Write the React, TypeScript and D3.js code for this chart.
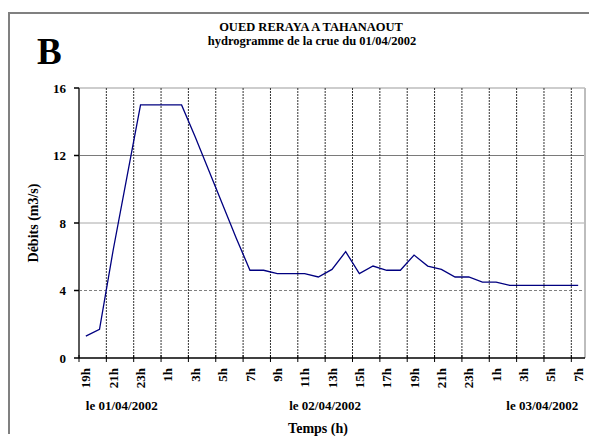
import React from 'react';
import * as d3 from 'd3';

const hourLabels = [
  '19h','20h','21h','22h','23h','0h','1h','2h','3h','4h','5h','6h','7h','8h','9h','10h','11h','12h',
  '13h','14h','15h','16h','17h','18h','19h','20h','21h','22h','23h','0h','1h','2h','3h','4h','5h','6h','7h'
];
const discharge = [
  1.3, 1.7, 6.4, 10.7, 15, 15, 15, 15, 13.1, 11.1, 9.1, 7.1, 5.2, 5.2, 5.0, 5.0, 5.0, 4.8,
  5.25, 6.3, 5.0, 5.45, 5.2, 5.2, 6.1, 5.45, 5.25, 4.8, 4.8, 4.5, 4.5, 4.3, 4.3, 4.3, 4.3, 4.3, 4.3
];
const yTicks = [0, 4, 8, 12, 16];
const dateTexts = ['le 01/04/2002', 'le 02/04/2002', 'le 03/04/2002'];
const dateIndex = [0, 18, 36];
const titleLines = ['OUED RERAYA A TAHANAOUT', 'hydrogramme de la crue du 01/04/2002'];
const yTitle = 'Débits (m3/s)';
const xTitle = 'Temps (h)';
const panelLetter = 'B';

const W = 589, H = 442;
const left = 79, right = 585, top = 88, bottom = 358;
const FONT = '"Liberation Serif", "Times New Roman", serif';

export default function App() {
  const idx = discharge.map((_, i) => i);
  const x = d3.scaleBand<number>().domain(idx).range([left, right]).padding(0);
  const bw = x.bandwidth();
  const cx = (i: number) => (x(i) as number) + bw / 2;
  const y = d3.scaleLinear().domain([0, 16]).range([bottom, top]);
  const line = d3.line<number>().x((_, i) => cx(i)).y(d => y(d));
  const even = idx.filter(i => i % 2 === 0);
  const gridX = even.filter(i => i > 0);

  const dateX = (k: number) => {
    const i = dateIndex[k];
    if (k === 0) return cx(i);
    if (k === dateTexts.length - 1) return cx(i);
    return x(i) as number;
  };
  const dateAnchor = (k: number) => (k === 0 ? 'start' : k === dateTexts.length - 1 ? 'end' : 'middle');

  return (
    <svg width={W} height={H} style={{ position: 'absolute', left: 0, top: 0, background: '#fff' }}
      fontFamily={FONT} fontWeight="bold">
      <rect x={0} y={0} width={W} height={H} fill="#fff" />
      <path d={`M9,434 V13 H${W}`} fill="none" stroke="#808080" strokeWidth={2} />

      <text x={37} y={64} fontSize={37}>{panelLetter}</text>
      <text x={311} y={31} fontSize={12.5} textAnchor="middle">{titleLines[0]}</text>
      <text x={312} y={45} fontSize={12.5} textAnchor="middle">{titleLines[1]}</text>

      {/* horizontal gridlines */}
      <line x1={left} x2={right} y1={y(12)} y2={y(12)} stroke="#7a7a7a" strokeWidth={1} />
      <line x1={left} x2={right} y1={y(8)} y2={y(8)} stroke="#a8a8a8" strokeWidth={1} />
      <line x1={left} x2={right} y1={y(4)} y2={y(4)} stroke="#808080" strokeWidth={1} strokeDasharray="3,2" />
      <line x1={left} x2={right} y1={y(16)} y2={y(16)} stroke="#bdbdbd" strokeWidth={1.5} />

      {/* vertical gridlines */}
      {gridX.map(i => (
        <line key={i} x1={x(i)} x2={x(i)} y1={top} y2={bottom} stroke="#333" strokeWidth={1} strokeDasharray="2,1" />
      ))}
      <line x1={right} x2={right} y1={top} y2={bottom} stroke="#bdbdbd" strokeWidth={2} />

      {/* axes */}
      <line x1={left} x2={left} y1={top} y2={bottom} stroke="#5a5a5a" strokeWidth={2} />
      <line x1={left} x2={right} y1={bottom} y2={bottom} stroke="#000" strokeWidth={1.5} />
      {yTicks.map(t => (
        <g key={t}>
          <line x1={left - 5} x2={left} y1={y(t)} y2={y(t)} stroke="#000" strokeWidth={1.5} />
          <text x={66} y={y(t)} dy="0.35em" fontSize={13} textAnchor="end">{t}</text>
        </g>
      ))}
      {even.map(i => (
        <line key={i} x1={x(i)} x2={x(i)} y1={bottom - 3} y2={bottom + 4} stroke="#000" strokeWidth={1} />
      ))}
      {even.map(i => (
        <text key={i} transform={`translate(${cx(i)},368) rotate(-90)`} dy="0.35em" fontSize={13} textAnchor="end">
          {hourLabels[i]}
        </text>
      ))}

      {dateTexts.map((t, k) => (
        <text key={k} x={dateX(k)} y={410} fontSize={13} textAnchor={dateAnchor(k)}>{t}</text>
      ))}
      <text x={318} y={433} fontSize={14} textAnchor="middle">{xTitle}</text>
      <text transform={`translate(33,223) rotate(-90)`} dy="0.35em" fontSize={14} textAnchor="middle">{yTitle}</text>

      <path d={line(discharge) || ''} fill="none" stroke="#000080" strokeWidth={1.3} />
    </svg>
  );
}
